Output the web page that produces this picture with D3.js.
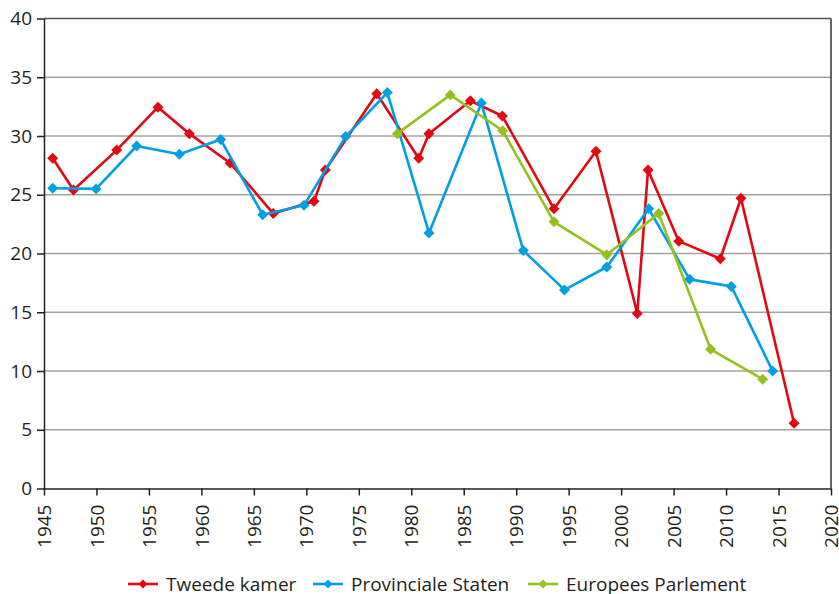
<!DOCTYPE html>
<html>
<head>
<meta charset="utf-8">
<script src="https://cdn.jsdelivr.net/npm/d3@7"></script>
<style>
  body { margin: 0; background: #fff; }
  svg text { font-family: "Open Sans", "Noto Sans", sans-serif; fill: #231f20; }
</style>
</head>
<body>
<div id="chart"></div>
<script>
// election moments (decimal year) and percentages
var tkYears = [1945.83, 1947.81, 1951.93, 1955.86, 1958.85, 1962.73, 1966.85, 1970.73, 1971.81, 1976.71,
               1980.71, 1981.69, 1985.63, 1988.68, 1993.6, 1997.6, 2001.54, 2002.56, 2005.49, 2009.45, 2011.42, 2016.48];
var tkValues = [28.1, 25.4, 28.8, 32.45, 30.2, 27.7, 23.4, 24.45, 27.1, 33.6,
                28.1, 30.2, 33.0, 31.7, 23.8, 28.7, 14.9, 27.1, 21.05, 19.55, 24.7, 5.55];

var psYears = [1945.83, 1949.96, 1953.83, 1957.9, 1961.84, 1965.84, 1969.78, 1973.75, 1977.72,
               1981.69, 1986.68, 1990.68, 1994.6, 1998.63, 2002.63, 2006.53, 2010.5, 2014.44];
var psValues = [25.55, 25.5, 29.15, 28.45, 29.7, 23.3, 24.1, 29.95, 33.7,
                21.75, 32.8, 20.25, 16.9, 18.85, 23.8, 17.8, 17.2, 10.0];

var epYears = [1978.67, 1983.72, 1988.71, 1993.6, 1998.63, 2003.58, 2008.53, 2013.49];
var epValues = [30.2, 33.5, 30.45, 22.7, 19.9, 23.4, 11.85, 9.3];

var xTicks = d3.range(1945, 2021, 5);
var yTicks = [0, 5, 10, 15, 20, 25, 30, 35, 40];

var series = [
    { name: "Tweede kamer", color: "#e30613", years: tkYears, values: tkValues },
    { name: "Provinciale Staten", color: "#009fe3", years: psYears, values: psValues },
    { name: "Europees Parlement", color: "#95c11f", years: epYears, values: epValues }
];

var width = 839, height = 594;
var m = { left: 44, right: 8, top: 18.5, bottom: 105.5 };

var svg = d3.select("#chart").append("svg")
    .attr("width", width)
    .attr("height", height);

var x = d3.scaleLinear().domain([1945, 2020]).range([m.left, width - m.right]);
var y = d3.scaleLinear().domain([0, 40]).range([height - m.bottom, m.top]);

// gridlines
svg.append("g")
    .selectAll("line")
    .data(yTicks.filter(function(d) { return d > 0 && d < 40; }))
    .enter().append("line")
    .attr("x1", x(1945)).attr("x2", x(2020))
    .attr("y1", function(d) { return y(d); })
    .attr("y2", function(d) { return y(d); })
    .attr("stroke", "#a3a3a3")
    .attr("stroke-width", 1.5);

// frame top + right
svg.append("line")
    .attr("x1", x(1945)).attr("x2", x(2020))
    .attr("y1", y(40)).attr("y2", y(40))
    .attr("stroke", "#555").attr("stroke-width", 1.5);
svg.append("line")
    .attr("x1", x(2020)).attr("x2", x(2020))
    .attr("y1", y(40)).attr("y2", y(0))
    .attr("stroke", "#333").attr("stroke-width", 1.5);

// axes
var yAxis = svg.append("g")
    .attr("transform", "translate(" + m.left + ",0)")
    .call(d3.axisLeft(y).tickValues(yTicks).tickSize(7).tickPadding(5).tickSizeOuter(0));
yAxis.selectAll("text").style("font-size", "19px");

var xAxis = svg.append("g")
    .attr("transform", "translate(0," + y(0) + ")")
    .call(d3.axisBottom(x).tickValues(xTicks).tickFormat(d3.format("d")).tickSize(7).tickSizeOuter(0));
xAxis.selectAll("text")
    .style("font-size", "19px")
    .attr("transform", "rotate(-90)")
    .attr("text-anchor", "end")
    .attr("x", -16)
    .attr("y", 0)
    .attr("dy", "0.35em");

svg.selectAll(".domain, .tick line").attr("stroke", "#231f20").attr("stroke-width", 1.5);

// lines + markers
var line = d3.line()
    .x(function(d) { return x(d[0]); })
    .y(function(d) { return y(d[1]); });

var marker = d3.symbol().type(d3.symbolSquare).size(60);

series.forEach(function(s) {
    var pts = d3.zip(s.years, s.values);
    var g = svg.append("g");
    g.append("path")
        .datum(pts)
        .attr("d", line)
        .attr("fill", "none")
        .attr("stroke", s.color)
        .attr("stroke-width", 2.6)
        .attr("stroke-linejoin", "round");
    g.selectAll("path.pt")
        .data(pts)
        .enter().append("path")
        .attr("class", "pt")
        .attr("d", marker)
        .attr("transform", function(d) {
            return "translate(" + x(d[0]) + "," + y(d[1]) + ") rotate(45)";
        })
        .attr("fill", s.color);
});

// legend
var legendX = [128, 313, 528];
var legend = svg.append("g").attr("transform", "translate(0,584)");
series.forEach(function(s, i) {
    var lg = legend.append("g").attr("transform", "translate(" + legendX[i] + ",0)");
    lg.append("line")
        .attr("x1", 0).attr("x2", 30)
        .attr("stroke", s.color).attr("stroke-width", 2.6);
    lg.append("path")
        .attr("d", d3.symbol().type(d3.symbolSquare).size(40))
        .attr("transform", "translate(15,0) rotate(45)")
        .attr("fill", s.color);
    lg.append("text")
        .attr("x", 38)
        .attr("dy", "0.35em")
        .style("font-size", "19px")
        .text(s.name);
});
</script>
</body>
</html>
